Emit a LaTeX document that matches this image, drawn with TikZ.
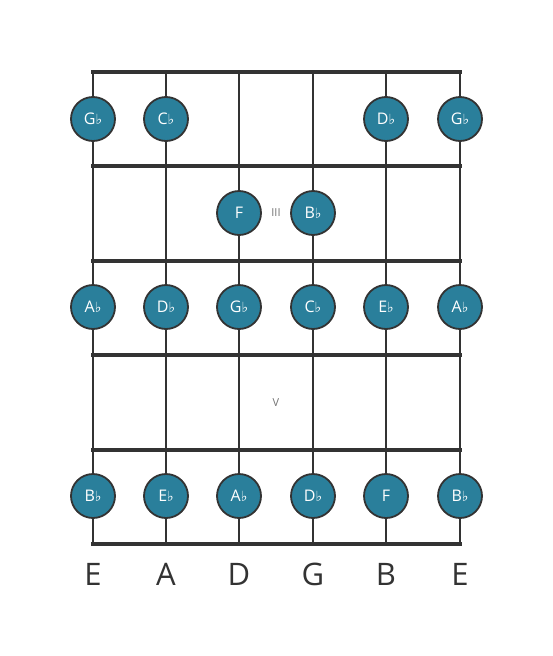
\documentclass[tikz,border=0pt]{standalone}
\usepackage{fontspec}
\setmainfont{Open Sans}
\newfontfamily\symfont{DejaVu Sans}
\begin{document}
\begin{tikzpicture}[x=1pt,y=-1pt,
  fretline/.style={line width=4pt,draw=black!80},
  stringline/.style={line width=2.2pt,draw=black!80},
  note/.style={circle,fill=notefill,draw=black!80,line width=1.8pt,minimum size=44pt,inner sep=0pt,text=white,font=\fontsize{16}{16}\selectfont},
  fretnum/.style={text=black!55,font=\fontsize{11}{11}\selectfont},
  strlabel/.style={text=black!80,font=\fontsize{31}{31}\selectfont}]
\definecolor{notefill}{HTML}{2A7F9B}
\useasboundingbox (0,0) rectangle (553,656);
\newcommand{\fl}{{\symfont\fontsize{14}{14}\selectfont ♭}}
% strings
\foreach \i/\x in {1/93,2/166,3/239,4/313,5/386,6/460}{
  \coordinate (st\i) at (\x,72);
  \coordinate (sb\i) at (\x,544);
  \draw[stringline] (st\i) -- (sb\i);
}
% frets
\foreach \j/\y in {0/72,1/166,2/261,3/355,4/450,5/544}{
  \coordinate (fl\j) at (91,\y);
  \coordinate (fr\j) at (462,\y);
  \draw[fretline] (fl\j) -- (fr\j);
}
% notes
\node[note] (n11) at (93,119) {G\fl};
\node[note] (n12) at (166,119) {C\fl};
\node[note] (n15) at (386,119) {D\fl};
\node[note] (n16) at (460,119) {G\fl};
\node[note] (n23) at (239,213) {F};
\node[note] (n24) at (313,213) {B\fl};
\node[note] (n31) at (93,307) {A\fl};
\node[note] (n32) at (166,307) {D\fl};
\node[note] (n33) at (239,307) {G\fl};
\node[note] (n34) at (313,307) {C\fl};
\node[note] (n35) at (386,307) {E\fl};
\node[note] (n36) at (460,307) {A\fl};
\node[note] (n51) at (93,496) {B\fl};
\node[note] (n52) at (166,496) {E\fl};
\node[note] (n53) at (239,496) {A\fl};
\node[note] (n54) at (313,496) {D\fl};
\node[note] (n55) at (386,496) {F};
\node[note] (n56) at (460,496) {B\fl};
% fret numbers
\node[fretnum] (f3) at (276,213) {III};
\node[fretnum] (f5) at (276,403) {V};
% string labels
\foreach \i/\x/\t in {1/93/E,2/166/A,3/239/D,4/313/G,5/386/B,6/460/E}
  \node[strlabel] (l\i) at (\x,574) {\t};
\end{tikzpicture}
\end{document}
